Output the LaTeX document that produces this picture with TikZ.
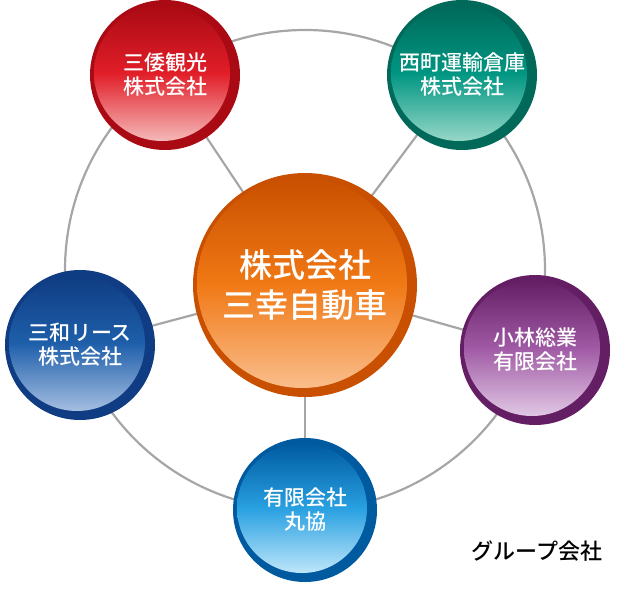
\documentclass[tikz,border=0pt]{standalone}
\usepackage{fontspec}
\usetikzlibrary{calc}
\newfontfamily\cjk{Noto Sans CJK JP Medium}
\begin{document}
\begin{tikzpicture}[x=1pt,y=-1pt,
  spoke/.style={draw=gray!70,line width=2.2pt},
  lbl/.style={text=white,font=\cjk\fontsize{21}{24}\selectfont,align=center}]
\useasboundingbox (0,0) rectangle (636,588);
\coordinate (ring) at (305,270);
\draw[spoke] (ring) circle (240);
\coordinate (c) at (305,285);
\foreach \n/\x/\y in {a/165/75,b/462/75,l/80/345,r/535/350,d/305/510}{\coordinate (\n) at (\x,\y);}
\foreach \n in {a,b,l,r,d}{\draw[spoke] (c) -- (\n);}
\newcommand\ball[5]{%
  \fill[#3] (#1) circle (#2);
  \shade[top color=#3,bottom color=#4,middle color=#5] ($(#1)+(-3,-2)$) circle ({#2-7});
}
\definecolor{redD}{RGB}{170,10,20}\definecolor{redM}{RGB}{225,30,40}\definecolor{redL}{RGB}{245,185,185}
\definecolor{tealD}{RGB}{0,105,90}\definecolor{tealM}{RGB}{0,150,130}\definecolor{tealL}{RGB}{150,215,200}
\definecolor{bluD}{RGB}{15,60,130}\definecolor{bluM}{RGB}{30,95,170}\definecolor{bluL}{RGB}{165,190,225}
\definecolor{purD}{RGB}{100,30,100}\definecolor{purM}{RGB}{160,90,165}\definecolor{purL}{RGB}{225,200,228}
\definecolor{ltbD}{RGB}{0,90,160}\definecolor{ltbM}{RGB}{40,160,225}\definecolor{ltbL}{RGB}{190,230,250}
\definecolor{orD}{RGB}{200,80,0}\definecolor{orM}{RGB}{240,120,20}\definecolor{orL}{RGB}{250,190,140}
\ball{c}{112}{orD}{orL}{orM}
\ball{a}{75}{redD}{redL}{redM}
\ball{b}{75}{tealD}{tealL}{tealM}
\ball{l}{75}{bluD}{bluL}{bluM}
\ball{r}{75}{purD}{purL}{purM}
\ball{d}{72}{ltbD}{ltbL}{ltbM}
\node[lbl,font=\cjk\fontsize{33}{40}\selectfont] (cn) at (c) {株式会社\\三幸自動車};
\node[lbl] (an) at (a) {三倭観光\\株式会社};
\node[lbl] (bn) at (b) {西町運輸倉庫\\株式会社};
\node[lbl] (ln) at (l) {三和リース\\株式会社};
\node[lbl] (rn) at (r) {小林総業\\有限会社};
\node[lbl] (dn) at (d) {有限会社\\丸協};
\node[font=\cjk\fontsize{22}{26}\selectfont] (g) at (537,551) {グループ会社};
\end{tikzpicture}
\end{document}
